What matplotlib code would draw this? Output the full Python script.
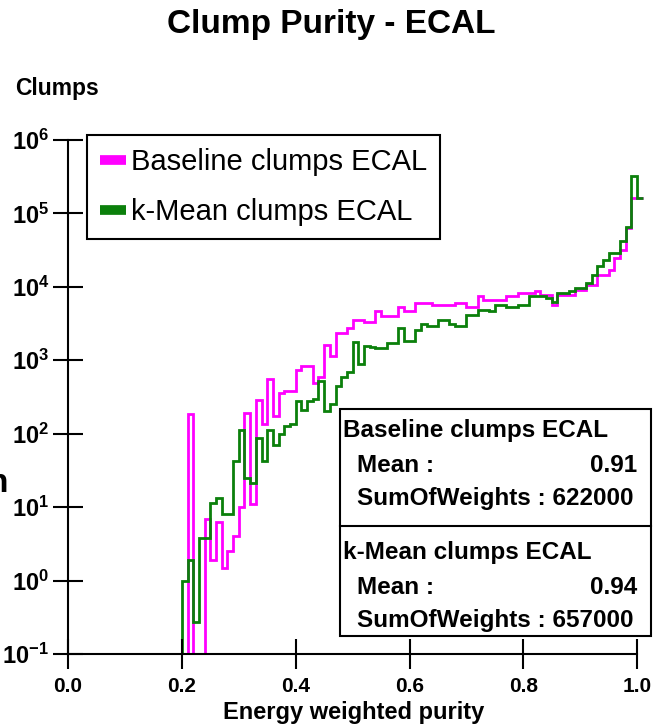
import matplotlib
matplotlib.use("Agg")
import matplotlib.pyplot as plt
import numpy as np
from matplotlib.lines import Line2D
from matplotlib.patches import Rectangle
from matplotlib.ticker import FuncFormatter, NullLocator

plt.rcParams["font.family"] = ["Liberation Sans", "DejaVu Sans"]
plt.rcParams["mathtext.fontset"] = "custom"
plt.rcParams["mathtext.rm"] = "Liberation Sans"
plt.rcParams["mathtext.bf"] = "Liberation Sans:bold"

# ─── Data (bins of 0.01, first filled bin starts at 0.20) ─────────────────────
FIRST_BIN = 0.20
BIN_WIDTH = 0.01
BASELINE = [
    0, 186, 0, 0, 6.8, 1.9, 6.2, 1.5, 2.5, 4,
    10, 192, 11, 290, 134, 550, 173, 360, 380, 380,
    745, 830, 830, 490, 600, 1630, 1130, 2360, 2360, 2750,
    3570, 3570, 3300, 3300, 4650, 3960, 3960, 3960, 5400, 4650,
    4650, 6000, 6000, 6000, 5700, 5700, 5700, 5700, 6000, 6000,
    5400, 5400, 7400, 6700, 6700, 6700, 6700, 7400, 7400, 8300,
    8300, 8300, 8700, 7800, 7800, 5700, 7800, 7800, 7800, 9200,
    9200, 10700, 10700, 14700, 14700, 17000, 24700, 32000, 63000, 160000,
    160000,
]
KMEAN = [
    1.0, 1.9, 0.27, 3.8, 3.8, 11.5, 13.5, 8, 8, 42,
    114, 25, 21, 88, 42, 114, 71, 98, 126, 134,
    275, 213, 275, 293, 515, 203, 250, 450, 600, 700,
    1750, 900, 1550, 1500, 1480, 1480, 1700, 1700, 2750, 1820,
    1820, 2600, 3080, 2900, 2900, 3570, 3570, 3080, 2900, 2900,
    4200, 4200, 4900, 4900, 4650, 5700, 5700, 5400, 5400, 5700,
    5700, 7400, 7400, 7400, 7100, 6300, 8300, 8300, 8700, 9700,
    9700, 11300, 14700, 19000, 23400, 28900, 28900, 41500, 66000, 320000,
    160000,
]
SERIES_NAMES = ["Baseline clumps ECAL", "k-Mean clumps ECAL"]
MEANS = [0.91, 0.94]
SUM_OF_WEIGHTS = [622000, 657000]
X_TICKS = [0.0, 0.2, 0.4, 0.6, 0.8, 1.0]
Y_DECADES = [-1, 0, 1, 2, 3, 4, 5, 6]

MAGENTA = "#ff00ff"
GREEN = "#0b800b"

W, H = 654, 726


def fx(px):
    return px / W


def fy(py):
    return 1 - py / H


def main():
    fig = plt.figure(figsize=(W / 100, H / 100), dpi=100)
    # axes: x 0..1.012 spans px 68..644, y 1e-1..1e6 spans px 654..140
    ax = fig.add_axes([fx(68), fy(654), 576 / W, 514 / H])

    n_empty = int(round(FIRST_BIN / BIN_WIDTH))
    n_bins = n_empty + len(BASELINE)
    edges = np.arange(n_bins + 1) * BIN_WIDTH
    base_vals = np.concatenate([np.zeros(n_empty), BASELINE])
    kmean_vals = np.concatenate([np.zeros(n_empty), KMEAN])

    ax.set_yscale("log")
    ax.stairs(base_vals, edges, baseline=None, color=MAGENTA, lw=2.0)
    ax.stairs(kmean_vals, edges, baseline=None, color=GREEN, lw=2.0)

    ax.set_xlim(0, 1.012)
    ax.set_ylim(0.1, 1e6)
    for side in ("top", "right"):
        ax.spines[side].set_visible(False)
    for side in ("left", "bottom"):
        ax.spines[side].set_linewidth(1.5)
    ax.spines["bottom"].set_bounds(0, 1.0)

    ax.set_xticks(X_TICKS)
    ax.set_xticklabels([f"{t:.1f}" for t in X_TICKS], fontweight="bold")
    ax.set_yticks([10.0 ** d for d in Y_DECADES])
    ax.yaxis.set_major_formatter(
        FuncFormatter(lambda v, _: r"$\mathbf{10^{%d}}$" % round(np.log10(v))))
    ax.yaxis.set_minor_locator(NullLocator())
    ax.tick_params(direction="inout", length=22, width=1.5)
    ax.tick_params(axis="x", labelsize=15, pad=5.5)
    ax.tick_params(axis="y", labelsize=17, pad=2.5)

    ax.set_xlabel("Energy weighted purity", fontsize=17, fontweight="bold", va="center")
    ax.xaxis.set_label_coords((354 - 68) / 576, -(712 - 654) / 514)
    ax.set_ylabel("Clumps", fontsize=16.5, fontweight="bold", rotation=0,
                  ha="left", va="center")
    ax.yaxis.set_label_coords((15 - 68) / 576, 1 + (140 - 88) / 514)

    fig.text(fx(331), fy(25), "Clump Purity - ECAL", ha="center", va="center",
             fontsize=24, fontweight="bold")
    # clipped glyph at the left edge of the original picture
    fig.text(fx(8), fy(483), "n", ha="right", va="center", fontsize=24,
             fontweight="bold")

    # legend
    handles = [Line2D([], [], color=MAGENTA, lw=7, solid_capstyle="butt"),
               Line2D([], [], color=GREEN, lw=7, solid_capstyle="butt")]
    leg = ax.legend(handles, SERIES_NAMES, loc="upper left",
                    bbox_to_anchor=(fx(87), fy(135)), bbox_transform=fig.transFigure,
                    borderaxespad=0, fontsize=21, handlelength=0.9,
                    handletextpad=0.15, borderpad=0.45, labelspacing=0.75,
                    fancybox=False, framealpha=1, edgecolor="black")
    leg.get_frame().set_linewidth(1.5)

    # statistics box
    box_l, box_r, box_t, box_m, box_b = 340, 651, 409, 526, 636
    fig.add_artist(Rectangle((fx(box_l), fy(box_b)), (box_r - box_l) / W,
                             (box_b - box_t) / H, transform=fig.transFigure,
                             facecolor="white", edgecolor="black", lw=1.5, zorder=5))
    fig.add_artist(Line2D([fx(box_l), fx(box_r)], [fy(box_m), fy(box_m)],
                          transform=fig.transFigure, color="black", lw=1.5, zorder=6))
    stat_kw = dict(fontsize=17.5, fontweight="bold", va="center", zorder=7)
    for i, (name, mean, sow) in enumerate(zip(SERIES_NAMES, MEANS, SUM_OF_WEIGHTS)):
        y0 = 430 + i * 122
        fig.text(fx(343), fy(y0), name, ha="left", **stat_kw)
        fig.text(fx(357), fy(y0 + 35), "Mean :", ha="left", **stat_kw)
        fig.text(fx(637), fy(y0 + 35), f"{mean:.2f}", ha="right", **stat_kw)
        fig.text(fx(357), fy(y0 + 69), f"SumOfWeights : {sow}", ha="left", **stat_kw)

    fig.savefig("out.png", dpi=100)
    plt.close(fig)


if __name__ == "__main__":
    main()
